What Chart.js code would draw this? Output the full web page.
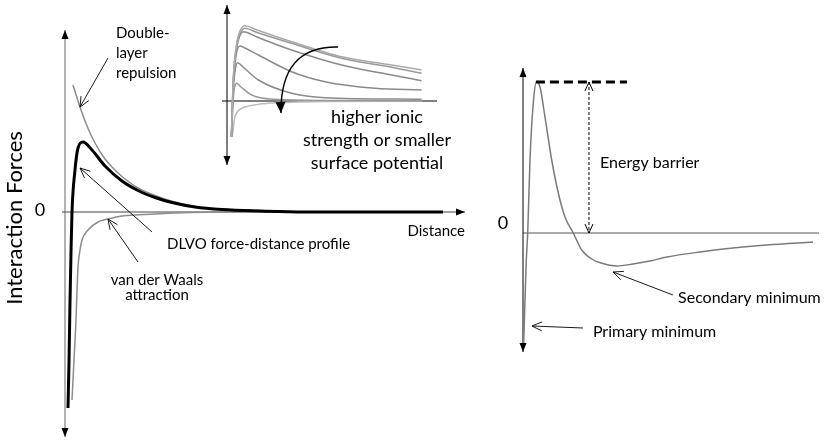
<!DOCTYPE html>
<html>
<head>
<meta charset="utf-8">
<script src="https://cdn.jsdelivr.net/npm/chart.js@4.4.1/dist/chart.umd.min.js"></script>
<style>
body { margin: 0; background: #fff; width: 830px; height: 440px; overflow: hidden; position: relative; }
canvas { position: absolute; }
</style>
</head>
<body>
<canvas id="mainChart" width="480" height="440" style="left:0px;top:0px"></canvas>
<canvas id="insetChart" width="250" height="180" style="left:215px;top:0px"></canvas>
<canvas id="barrierChart" width="340" height="310" style="left:490px;top:50px"></canvas>
<script>
// main panel: force vs distance (arbitrary units)
const dlvoX = [0.75, 1.0, 1.25, 1.5, 1.75, 2.5, 3.25, 4.5, 6.75, 10, 14.25, 18.25, 22.5, 26.75, 32.5, 39.25, 48.75, 60, 94.5];
const dlvoY = [-196, -150, -90, -40, 0, 42, 64, 70, 62, 46, 31, 21.5, 14.5, 9.5, 5, 2.5, 1, 0, 0];
const vdwX = [1.75, 2.25, 2.75, 3, 3.25, 3.75, 4.25, 5.75, 8.25, 10.75, 14.25, 22.5, 27.5, 43.75, 94.5];
const vdwY = [-188, -148, -108, -78, -55, -38, -28, -18, -10, -7, -4, -2, -1, 0, 0];
const edlX = [2, 3.75, 5.5, 7.5, 10, 11.75, 14.25, 18.25, 22.5, 26.75, 32.5, 39.25, 48.75, 60];
const edlY = [127, 105, 86, 69, 53, 45, 35.5, 24, 16.5, 10.7, 5.5, 2.7, 1, 0];

// inset: profiles for rising ionic strength (A = lowest)
const insetX = {
    A: [2.2, 3.2, 4.8, 6.5, 9, 15, 32.3, 57.3, 82.3, 97.3],
    B: [2.2, 3.2, 4.8, 6.5, 9, 15, 32.3, 57.3, 82.3, 97.3],
    C: [2.2, 3.2, 4.8, 6, 8.2, 15, 32.3, 57.3, 82.3, 97.3],
    D: [2.2, 3.1, 4.5, 6.5, 9, 15.7, 32.3, 49, 74, 97.3],
    E: [2.2, 3.1, 4.2, 5.3, 8, 15.7, 32.3, 49, 97.3],
    F: [2.2, 3.2, 4.8, 7, 12.3, 23.7, 50, 97.3],
    G: [2.2, 2.7, 3.3, 4, 5.5, 7.3, 15.7, 32.3, 49, 97.3]
};
const insetA = [-36, 24, 57, 70, 75.3, 71, 59.3, 44.3, 36, 31];
const insetB = [-36, 23, 55, 67, 72.7, 68.5, 57.7, 42.7, 33.7, 27.7];
const insetC = [-36, 21, 52, 63, 69.3, 64, 51, 36, 26, 20.3];
const insetD = [-36, 16, 45, 55, 53, 46, 29.3, 19.3, 12.7, 11];
const insetE = [-36, 10, 32, 38.3, 34, 21, 7.7, 3.3, 1.7];
const insetF = [-36, 4, 17.7, 14, 6, 1.7, 0.5, 0.3];
const insetG = [-36, -34, -24, -15.7, -10, -7.3, -3.3, -1.3, -0.5, 0];

// right panel: total interaction energy
const barrierX = [0.2, 0.67, 1.1, 1.57, 2.33, 3.43, 4.5, 5.67, 7.33, 9.57, 11.77, 14, 16.77, 19.57, 22.9, 26, 31.3, 36.7, 42.3, 48, 59, 70, 81.3, 96.7];
const barrierY = [-112, -67, -27, 0, 73, 130, 151, 146, 116, 73, 40, 16, 0, -17, -26, -30, -33, -31, -28, -24, -19, -15, -12, -9];

const FONT = 'Lato, "Open Sans", sans-serif';

function pts(xs, ys) {
    return xs.map(function (x, i) { return { x: x, y: ys[i] }; });
}

function curve(xs, ys, color, width) {
    return {
        data: pts(xs, ys),
        borderColor: color,
        borderWidth: width,
        pointRadius: 0,
        cubicInterpolationMode: 'monotone',
        fill: false,
        clip: 6
    };
}

function arrowHead(ctx, fx, fy, tx, ty, len, half, filled) {
    let a = Math.atan2(ty - fy, tx - fx);
    let lx = tx - len * Math.cos(a), ly = ty - len * Math.sin(a);
    let px = -Math.sin(a) * half, py = Math.cos(a) * half;
    ctx.beginPath();
    if (filled) {
        ctx.moveTo(tx, ty);
        ctx.lineTo(lx + px, ly + py);
        ctx.lineTo(lx - px, ly - py);
        ctx.closePath();
        ctx.fill();
    } else {
        ctx.moveTo(lx + px, ly + py);
        ctx.lineTo(tx, ty);
        ctx.lineTo(lx - px, ly - py);
        ctx.stroke();
    }
}

// axes, labels and pointer arrows, all placed through the chart's own scales
function sketch(spec) {
    return {
        id: 'sketch',
        beforeDatasetsDraw(chart) {
            let ctx = chart.ctx, sx = chart.scales.x, sy = chart.scales.y;
            ctx.save();
            ctx.lineWidth = 1;
            ctx.strokeStyle = spec.hColor;
            ctx.beginPath();
            ctx.moveTo(sx.getPixelForValue(spec.hFrom), sy.getPixelForValue(0));
            ctx.lineTo(sx.getPixelForValue(sx.max), sy.getPixelForValue(0));
            ctx.stroke();
            ctx.strokeStyle = spec.vColor;
            ctx.beginPath();
            ctx.moveTo(sx.getPixelForValue(0), sy.getPixelForValue(sy.max));
            ctx.lineTo(sx.getPixelForValue(0), sy.getPixelForValue(sy.min));
            ctx.stroke();
            ctx.restore();
        },
        afterDatasetsDraw(chart) {
            let ctx = chart.ctx, sx = chart.scales.x, sy = chart.scales.y;
            let X = function (v) { return sx.getPixelForValue(v); };
            let Y = function (v) { return sy.getPixelForValue(v); };
            ctx.save();
            ctx.fillStyle = '#000';
            ctx.strokeStyle = '#000';
            // axis arrow heads
            arrowHead(ctx, X(0), Y(0), X(0), Y(sy.max), 9, 3.5, true);
            arrowHead(ctx, X(0), Y(0), X(0), Y(sy.min), 9, 3.5, true);
            if (spec.hArrow) arrowHead(ctx, X(0), Y(0), X(sx.max), Y(0), 9, 3.5, true);
            // pointers
            ctx.lineWidth = 0.9;
            (spec.pointers || []).forEach(function (p) {
                ctx.beginPath();
                ctx.moveTo(X(p.from[0]), Y(p.from[1]));
                ctx.lineTo(X(p.to[0]), Y(p.to[1]));
                ctx.stroke();
                arrowHead(ctx, X(p.from[0]), Y(p.from[1]), X(p.to[0]), Y(p.to[1]), 10, 4.5, false);
            });
            if (spec.extra) spec.extra(chart, ctx, X, Y);
            // labels
            ctx.fillStyle = '#000';
            ctx.textBaseline = 'middle';
            (spec.labels || []).forEach(function (l) {
                ctx.font = (l.size || spec.fontSize) + 'px ' + FONT;
                ctx.textAlign = l.align || 'left';
                ctx.fillText(l.text, X(l.x), Y(l.y));
            });
            ctx.restore();
        }
    };
}

function baseOptions(xMin, xMax, yMin, yMax, pad) {
    return {
        responsive: false,
        animation: false,
        events: [],
        layout: { padding: pad },
        plugins: { legend: { display: false }, tooltip: { enabled: false } },
        scales: {
            x: { type: 'linear', min: xMin, max: xMax, display: false },
            y: { type: 'linear', min: yMin, max: yMax, display: false }
        }
    };
}

// ---- main panel (first dataset is drawn on top)
new Chart(document.getElementById('mainChart'), {
    type: 'line',
    data: {
        datasets: [
            curve(dlvoX, dlvoY, '#000', 3),
            curve(edlX, edlY, '#8c8c8c', 1.5),
            curve(vdwX, vdwY, '#8c8c8c', 1.5)
        ]
    },
    options: baseOptions(0, 100, -225, 182, { left: 65, right: 15, top: 30, bottom: 3 }),
    plugins: [sketch({
        hFrom: -0.75, hColor: '#444', vColor: '#666', hArrow: true, fontSize: 15,
        labels: [
            { text: 'Double-', x: 12.75, y: 179 },
            { text: 'layer', x: 12.75, y: 159 },
            { text: 'repulsion', x: 12.75, y: 139 },
            { text: 'DLVO force-distance profile', x: 25.5, y: -32 },
            { text: 'van der Waals', x: 23, y: -68, align: 'center' },
            { text: 'attraction', x: 23, y: -83, align: 'center' },
            { text: 'Distance', x: 100, y: -19, align: 'right' },
            { text: '0', x: -6.25, y: 2, align: 'center', size: 18 }
        ],
        pointers: [
            { from: [10.75, 154], to: [3.75, 105] },
            { from: [21.75, -20], to: [3.75, 44] },
            { from: [18.25, -50], to: [10.75, -7] }
        ],
        extra: function (chart, ctx, X, Y) {
            ctx.save();
            ctx.fillStyle = '#000';
            ctx.font = '22px ' + FONT;
            ctx.textAlign = 'center';
            ctx.textBaseline = 'middle';
            ctx.translate(15, Y(-6));
            ctx.rotate(-Math.PI / 2);
            ctx.fillText('Interaction Forces', 0, 0);
            ctx.restore();
        }
    })]
});

// ---- inset
new Chart(document.getElementById('insetChart'), {
    type: 'line',
    data: {
        datasets: [
            curve(insetX.A, insetA, '#aaa', 1.6),
            curve(insetX.B, insetB, '#999', 1.5),
            curve(insetX.C, insetC, '#8a8a8a', 1.5),
            curve(insetX.D, insetD, '#8a8a8a', 1.5),
            curve(insetX.E, insetE, '#8a8a8a', 1.5),
            curve(insetX.F, insetF, '#999', 1.5),
            curve(insetX.G, insetG, '#bdbdbd', 1.6)
        ]
    },
    options: baseOptions(0, 105, -64, 96, { left: 12, right: 28, top: 5, bottom: 15 }),
    plugins: [sketch({
        hFrom: -2.5, hColor: '#000', vColor: '#000', hArrow: false, fontSize: 18,
        labels: [
            { text: 'higher ionic', x: 75, y: -16, align: 'center' },
            { text: 'strength or smaller', x: 75, y: -39, align: 'center' },
            { text: 'surface potential', x: 75, y: -62, align: 'center' }
        ],
        extra: function (chart, ctx, X, Y) {
            ctx.lineWidth = 1.4;
            ctx.beginPath();
            ctx.moveTo(X(55.5), Y(54));
            ctx.quadraticCurveTo(X(26.5), Y(55), X(27), Y(-12));
            ctx.stroke();
            arrowHead(ctx, X(26.6), Y(4), X(27), Y(-12), 11, 5, true);
        }
    })]
});

// ---- energy barrier panel
new Chart(document.getElementById('barrierChart'), {
    type: 'line',
    data: { datasets: [curve(barrierX, barrierY, '#7a7a7a', 1.5)] },
    options: baseOptions(0, 98.7, -119, 165, { left: 33, right: 11, top: 18, bottom: 8 }),
    plugins: [sketch({
        hFrom: 0, hColor: '#555', vColor: '#000', hArrow: false, fontSize: 16,
        labels: [
            { text: '0', x: -6.67, y: 10, align: 'center', size: 18 },
            { text: 'Energy barrier', x: 25.7, y: 70 },
            { text: 'Secondary minimum', x: 51.7, y: -65 },
            { text: 'Primary minimum', x: 23.3, y: -99 }
        ],
        pointers: [
            { from: [50, -62], to: [30, -39] },
            { from: [20, -95], to: [3, -93] }
        ],
        extra: function (chart, ctx, X, Y) {
            let peak = Math.max.apply(null, barrierY);
            ctx.save();
            ctx.lineWidth = 3;
            ctx.setLineDash([9, 5]);
            ctx.beginPath();
            ctx.moveTo(X(4.3), Y(peak));
            ctx.lineTo(X(34.7), Y(peak));
            ctx.stroke();
            ctx.lineWidth = 1;
            ctx.setLineDash([3, 2]);
            ctx.beginPath();
            ctx.moveTo(X(22), Y(peak));
            ctx.lineTo(X(22), Y(0));
            ctx.stroke();
            ctx.setLineDash([]);
            arrowHead(ctx, X(22), Y(0), X(22), Y(peak), 9, 4, false);
            arrowHead(ctx, X(22), Y(peak), X(22), Y(0), 9, 4, false);
            ctx.restore();
        }
    })]
});
</script>
</body>
</html>
